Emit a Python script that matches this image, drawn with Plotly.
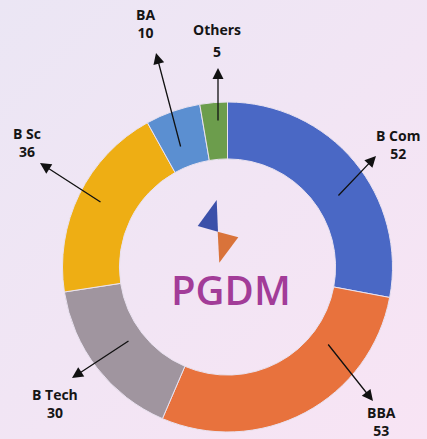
import base64
import plotly.graph_objects as go

W, H = 427, 439

# ---- data ----
categories = ["B Com", "BBA", "B Tech", "B Sc", "BA", "Others"]
counts = [52, 53, 30, 36, 10, 5]
slice_colors = ["#4a68c5", "#e8723d", "#a0959f", "#eeae14", "#5b8fd1", "#6c9d4c"]

# label placement (pixels): label centre, arrow head, arrow tail
label_pos = {
    "B Com": ((398, 144), (376, 156), (337, 197)),
    "BBA": ((381, 421), (373, 401), (327, 343)),
    "B Tech": ((55, 403), (72, 378), (130, 340)),
    "B Sc": ((27, 142), (40, 163), (102, 203)),
    "BA": ((145, 23), (156, 53), (181, 148)),
    "Others": ((217, 40), (218, 68), (218, 122)),
}


def px(x):
    return x / W


def py(y):
    return 1 - y / H


cx, cy, R = 227.5, 267, 165

fig = go.Figure()
fig.add_trace(go.Pie(
    labels=categories,
    values=counts,
    sort=False,
    direction="clockwise",
    rotation=0,
    hole=0.655,
    marker=dict(colors=slice_colors, line=dict(color="#e9e2f0", width=1)),
    textinfo="none",
    hoverinfo="label+value",
    showlegend=False,
    domain=dict(x=[px(cx - R), px(cx + R)], y=[py(cy + R), py(cy - R)]),
))

lab_font = dict(family="Open Sans", size=14, color="#151515")
annotations = []
for name, val in zip(categories, counts):
    (lx, ly), (hx, hy), (tx, ty) = label_pos[name]
    if name == "Others":
        annotations.append(dict(x=px(lx), y=py(ly - 11), xref="paper", yref="paper", text=f"<b>{name}</b>",
                                showarrow=False, font=lab_font, xanchor="center", yanchor="middle"))
        annotations.append(dict(x=px(lx), y=py(ly + 11), xref="paper", yref="paper", text=f"<b>{val}</b>",
                                showarrow=False, font=lab_font, xanchor="center", yanchor="middle"))
    else:
        annotations.append(dict(x=px(lx), y=py(ly), xref="paper", yref="paper",
                                text=f"<b>{name}</b><br><b>{val}</b>", align="center",
                                showarrow=False, font=lab_font, xanchor="center", yanchor="middle"))
    annotations.append(dict(x=px(hx), y=py(hy), xref="paper", yref="paper", text="",
                            showarrow=True, ax=tx - hx, ay=ty - hy, axref="pixel", ayref="pixel",
                            arrowhead=2, arrowsize=1.7, arrowwidth=1.3, arrowcolor="#111111",
                            standoff=0, startstandoff=0))

annotations.append(dict(x=px(231), y=py(289), xref="paper", yref="paper", text="PGDM",
                        showarrow=False,
                        font=dict(family="Open Sans", size=40, color="#a23c98", weight=600)))

# logo triangles
def tri(pts):
    p = " ".join(("M" if i == 0 else "L") + f" {px(x):.4f},{py(y):.4f}" for i, (x, y) in enumerate(pts))
    return p + " Z"

shapes = [
    dict(type="path", xref="paper", yref="paper", path=tri([(216.7, 200), (197.7, 226), (218, 231.7)]),
         fillcolor="#3b50a9", line=dict(width=0)),
    dict(type="path", xref="paper", yref="paper", path=tri([(217.7, 231.7), (238.3, 237.3), (219.3, 262.7)]),
         fillcolor="#d9733a", line=dict(width=0)),
]

svg = (f'<svg xmlns="http://www.w3.org/2000/svg" width="{W}" height="{H}" preserveAspectRatio="none">'
       '<defs><linearGradient id="g" x1="0" y1="0" x2="1" y2="1">'
       '<stop offset="0" stop-color="#ebe6f4"/><stop offset="1" stop-color="#f8e4f4"/>'
       '</linearGradient></defs>'
       f'<rect width="{W}" height="{H}" fill="url(#g)"/></svg>')
bg = "data:image/svg+xml;base64," + base64.b64encode(svg.encode()).decode()

fig.update_layout(
    width=W, height=H,
    autosize=False,
    margin=dict(l=0, r=0, t=0, b=0, pad=0),
    paper_bgcolor="#f0e5f4",
    plot_bgcolor="rgba(0,0,0,0)",
    annotations=annotations,
    shapes=shapes,
    images=[dict(source=bg, xref="paper", yref="paper", x=0, y=1, sizex=1, sizey=1,
                 sizing="stretch", layer="below", xanchor="left", yanchor="top")],
)

fig.write_html(
    "out.html",
    config={"responsive": False, "displayModeBar": False},
    post_script="document.body.style.margin='0';document.body.style.padding='0';document.body.style.overflow='hidden';",
)
